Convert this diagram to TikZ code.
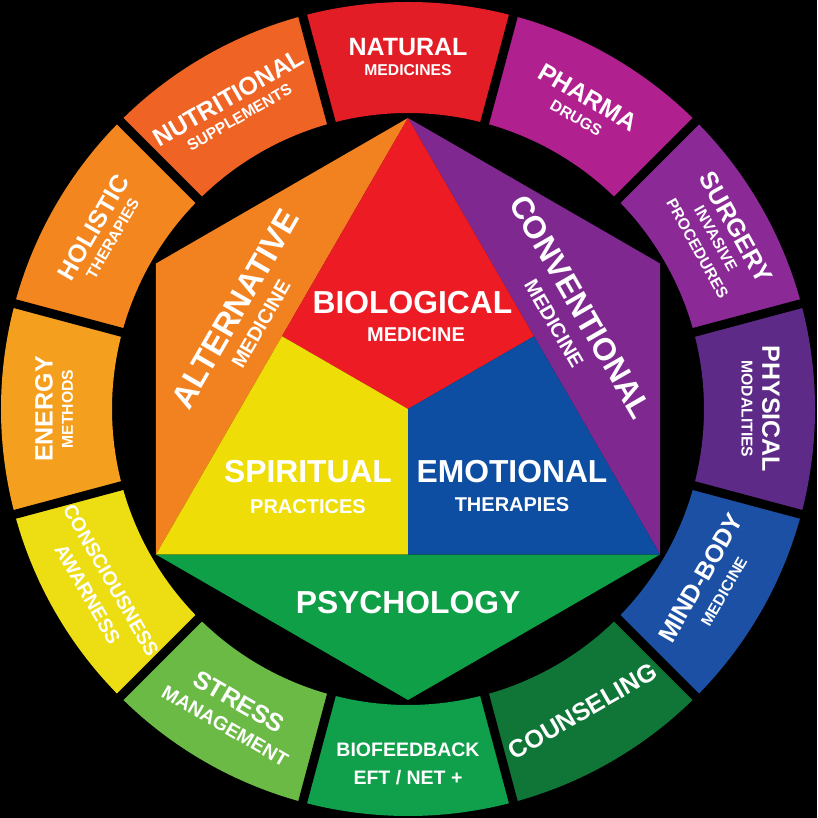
\documentclass[tikz,border=0pt]{standalone}
\usepackage{fontspec}
\setmainfont{Liberation Sans}
\usetikzlibrary{calc}
\newcommand{\myfs}[1]{\fontsize{#1}{#1}\selectfont}
% ring colours
\definecolor{cNat}{RGB}{227,29,37}
\definecolor{cPha}{RGB}{176,32,142}
\definecolor{cSur}{RGB}{139,42,150}
\definecolor{cPhy}{RGB}{94,42,135}
\definecolor{cMin}{RGB}{27,80,165}
\definecolor{cCou}{RGB}{15,118,56}
\definecolor{cBio}{RGB}{16,160,75}
\definecolor{cStr}{RGB}{107,186,70}
\definecolor{cCon}{RGB}{237,222,19}
\definecolor{cEne}{RGB}{245,159,31}
\definecolor{cHol}{RGB}{243,134,31}
\definecolor{cNut}{RGB}{239,99,36}
% interior colours
\definecolor{iAlt}{RGB}{242,129,31}
\definecolor{iBio}{RGB}{237,28,36}
\definecolor{iCon}{RGB}{126,40,144}
\definecolor{iSpi}{RGB}{238,221,6}
\definecolor{iEmo}{RGB}{13,78,162}
\definecolor{iPsy}{RGB}{15,159,71}
\tikzset{
  lbl/.style={text=white, inner sep=0pt, anchor=center},
  ringmain/.style={lbl, font=\bfseries\myfs{25}},
  ringsub/.style={lbl, font=\bfseries\myfs{15.7}},
  ringmid/.style={lbl, font=\bfseries\myfs{19.5}},
  hexmain/.style={lbl, font=\bfseries\myfs{31.8}},
  hexsub/.style={lbl, font=\bfseries\myfs{20}},
  gapline/.style={black, line width=9pt},
}
\begin{document}
\begin{tikzpicture}[x=1pt,y=1pt]
\fill[black] (-408,-409) rectangle (409,409);
\useasboundingbox (-408,-409) rectangle (409,409);
% ---- outer ring segments
\foreach \a/\c in {90/cNat,60/cPha,30/cSur,0/cPhy,-30/cMin,-60/cCou,-90/cBio,-120/cStr,-150/cCon,180/cEne,150/cHol,120/cNut}{
  \pgfmathsetmacro{\s}{\a-15}
  \pgfmathsetmacro{\e}{\a+15}
  \fill[\c] (\s:407) arc[start angle=\s, end angle=\e, radius=407pt] -- (\e:296) arc[start angle=\e, end angle=\s, radius=296pt] -- cycle;
}
\foreach \b in {15,45,...,345}{
  \draw[gapline] (\b:292) -- (\b:412);
}
% ---- hexagon
\coordinate (T) at (90:291);
\coordinate (UR) at (30:291);
\coordinate (LR) at (-30:291);
\coordinate (B) at (-90:291);
\coordinate (LL) at (210:291);
\coordinate (UL) at (150:291);
\coordinate (C) at (0,0);
\coordinate (ML) at ($(T)!0.5!(LL)$);
\coordinate (MR) at ($(T)!0.5!(LR)$);
\coordinate (MB) at ($(LL)!0.5!(LR)$);
\fill[iAlt] (T) -- (UL) -- (LL) -- cycle;
\fill[iCon] (T) -- (UR) -- (LR) -- cycle;
\fill[iBio] (T) -- (MR) -- (C) -- (ML) -- cycle;
\fill[iSpi] (ML) -- (C) -- (MB) -- (LL) -- cycle;
\fill[iEmo] (C) -- (MR) -- (LR) -- (MB) -- cycle;
\fill[iPsy] (LL) -- (LR) -- (B) -- cycle;
% ---- interior labels
\node[hexmain] (bio) at (4.5,106.5) {BIOLOGICAL};
\node[hexsub] (biosub) at (8,74) {MEDICINE};
\node[hexmain] (spi) at (-100,-63) {SPIRITUAL};
\node[hexsub] (spisub) at (-100,-97.5) {PRACTICES};
\node[hexmain] (emo) at (104,-62.5) {EMOTIONAL};
\node[hexsub] (emosub) at (104,-96) {THERAPIES};
\node[hexmain] (psy) at (0,-193.5) {PSYCHOLOGY};
\node[hexmain, font=\bfseries\myfs{32.5}, rotate=60] (alt) at (-173,100) {ALTERNATIVE};
\node[hexsub, rotate=60] (altsub) at (-147,85) {MEDICINE};
\node[hexmain, font=\bfseries\myfs{31.5}, rotate=-60] (con) at (173,102) {CONVENTIONAL};
\node[hexsub, rotate=-60] (consub) at (146,85.5) {MEDICINE};
% ---- ring labels (upper half)
\node[ringmain] (nat) at (90:362) {NATURAL};
\node[ringsub] (natsub) at (90:338.5) {MEDICINES};
\node[ringmain, rotate=-30] (pha) at (60:360) {PHARMA};
\node[ringsub, rotate=-30] (phasub) at (60:336) {DRUGS};
\node[ringmain, rotate=-61] (sur) at (29:375) {SURGERY};
\node[ringsub, rotate=-61] (sursub) at (29:352) {INVASIVE};
\node[ringsub, rotate=-61] (sursubb) at (29:331) {PROCEDURES};
\node[ringmain, rotate=-90] (phy) at (0:363) {PHYSICAL};
\node[ringsub, rotate=-90] (physub) at (0:339) {MODALITIES};
\node[ringmain, rotate=90] (ene) at (180:364) {ENERGY};
\node[ringsub, rotate=90] (enesub) at (180:340.5) {METHODS};
\node[ringmain, rotate=60] (hol) at (150:363) {HOLISTIC};
\node[ringsub, rotate=60] (holsub) at (150:341) {THERAPIES};
\node[ringmain, rotate=30] (nut) at (120:359) {NUTRITIONAL};
\node[ringsub, rotate=30] (nutsub) at (120:337) {SUPPLEMENTS};
% ---- ring labels (lower half)
\node[ringmain, rotate=60] (min) at (-30:338) {MIND-BODY};
\node[ringsub, rotate=60] (minsub) at (-30:365) {MEDICINE};
\node[ringmain, rotate=30] (cou) at (-60:349) {COUNSELING};
\node[ringmid] (biof) at (-90:340.5) {BIOFEEDBACK};
\node[ringmid] (biofsub) at (-90:369) {EFT / NET +};
\node[ringmain, rotate=-30] (str) at (-120:338) {STRESS};
\node[ringmid, rotate=-30] (strsub) at (-120:366) {MANAGEMENT};
\node[ringmid, rotate=-60] (cons) at (-150:343) {CONSCIOUSNESS};
\node[ringmid, rotate=-60] (conssub) at (-150:370) {AWARNESS};
\end{tikzpicture}
\end{document}
